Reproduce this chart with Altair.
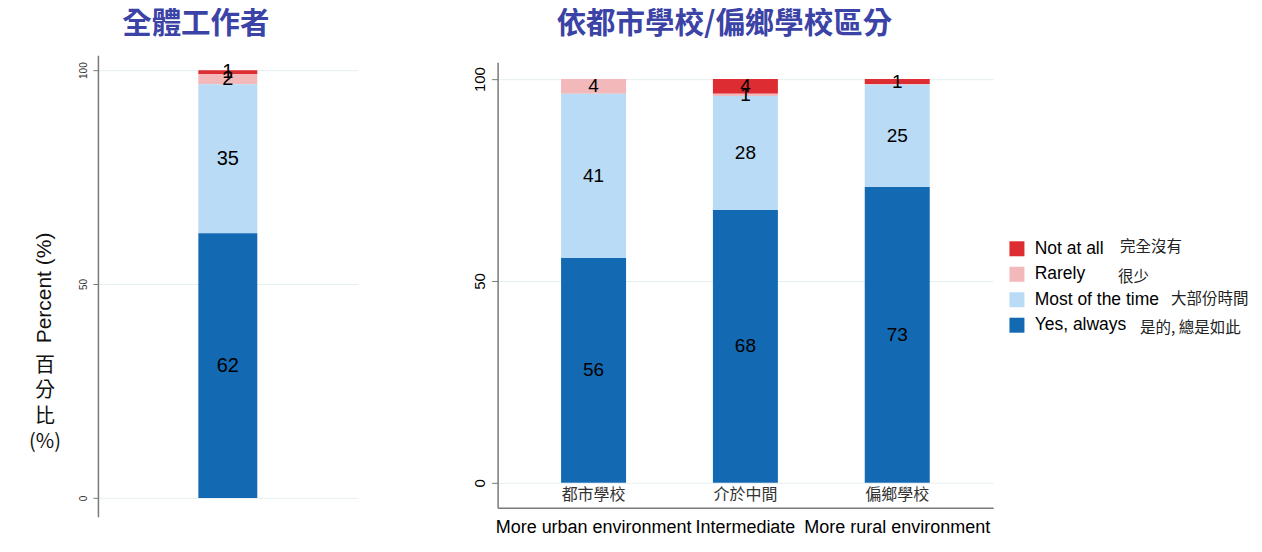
import altair as alt
import pandas as pd

# ---------------- data ----------------
responses = ["Not at all", "Rarely", "Most of the time", "Yes, always"]
responses_zh = ["完全沒有", "很少", "大部份時間", "是的, 總是如此"]
stack_rank = [3, 2, 1, 0]          # 0 = bottom of the stack
colors = ["#dd2d32", "#f2b8ba", "#b9dbf6", "#1469b3"]

overall_cat = ["全體"]
overall_values = [0.9, 2.4, 34.8, 61.9]

school_en = ["More urban environment", "Intermediate", "More rural environment"]
school_zh = ["都市學校", "介於中間", "偏鄉學校"]
urban_values = [0.0, 3.6, 40.7, 55.7]
intermediate_values = [3.6, 0.6, 28.2, 67.6]
rural_values = [1.2, 0.2, 25.3, 73.3]

left_title = "全體工作者"
right_title = "依都市學校/偏鄉學校區分"
y_title_en = "Percent (%)"
y_title_zh = "百\n分\n比\n(%)"
y_ticks = [0, 50, 100]

# ---------------- tables ----------------
rows_left = [
    {"cat": overall_cat[0], "resp": r, "k": k, "v": v}
    for r, k, v in zip(responses, stack_rank, overall_values)
]
df_left = pd.DataFrame(rows_left)

rows_right = []
for cat, zh, vals in zip(school_en, school_zh,
                         [urban_values, intermediate_values, rural_values]):
    for r, k, v in zip(responses, stack_rank, vals):
        rows_right.append({"cat": cat, "zh": zh, "resp": r, "k": k, "v": v})
df_right = pd.DataFrame(rows_right)
df_zh = pd.DataFrame({"cat": school_en, "zh": school_zh})

FONT = "Liberation Sans"
CJK = "Noto Sans CJK TC"
color_scale = alt.Scale(domain=responses, range=colors)
GRID = "#e6eff1"
DOMAIN = "#7a7a7a"
TITLE_COLOR = "#3b43a6"

# ---------------- left panel ----------------
yl_scale = alt.Scale(domain=[-4.4, 103.5], nice=False, zero=False)
left_base = alt.Chart(df_left)
left_bars = left_base.mark_bar(size=59).encode(
    x=alt.X("cat:N", axis=None),
    y=alt.Y("v:Q", stack="zero", scale=yl_scale,
            axis=alt.Axis(values=y_ticks, title=None, labelAngle=270,
                          labelFontSize=10, labelFont=FONT, labelColor="#333",
                          tickSize=5, tickColor=DOMAIN, domainColor=DOMAIN,
                          domainWidth=1.5, gridColor=GRID, grid=True,
                          labelPadding=4)),
    color=alt.Color("resp:N", scale=color_scale, legend=None),
    order=alt.Order("k:Q"),
)
left_labels = left_base.transform_stack(
    stack="v", groupby=["cat"], as_=["y0", "y1"],
    sort=[alt.SortField("k", order="ascending")],
).transform_calculate(
    mid="(datum.y0 + datum.y1) / 2"
).transform_filter("datum.v >= 0.5").mark_text(
    font=FONT, fontSize=20, color="black"
).encode(
    x=alt.X("cat:N", axis=None),
    y=alt.Y("mid:Q", scale=yl_scale),
    text=alt.Text("v:Q", format=".0f"),
)
ytitle_en = alt.Chart(pd.DataFrame({"t": [y_title_en]})).mark_text(
    font=FONT, fontSize=21, angle=270, color="#111"
).encode(x=alt.value(-53), y=alt.value(233), text="t:N")
ytitle_zh = alt.Chart(pd.DataFrame({"t": [y_title_zh]})).mark_text(
    font=CJK, fontSize=20, lineBreak="\n", lineHeight=25.5, baseline="top",
    color="#111"
).encode(x=alt.value(-53), y=alt.value(301), text="t:N")

left = alt.layer(left_bars, left_labels, ytitle_en, ytitle_zh).properties(
    width=260, height=462,
    title=alt.TitleParams(left_title, font=CJK, fontSize=29.5, fontWeight="bold",
                          color=TITLE_COLOR, anchor="middle", frame="group",
                          dx=-32, offset=16),
)

# ---------------- right panel ----------------
R_H = 453
yr_scale = alt.Scale(domain=[-6.2, 104.2], nice=False, zero=False, range=[R_H, 7])
x_scale = alt.Scale(domain=school_en, paddingInner=0.572, paddingOuter=0.418)
right_base = alt.Chart(df_right)
right_bars = right_base.mark_bar().encode(
    x=alt.X("cat:N", scale=x_scale, sort=school_en,
            axis=alt.Axis(title=None, labelAngle=0, ticks=False,
                          labelFontSize=18, labelFont=FONT, labelColor="black",
                          labelPadding=11, labelLimit=0, labelOverlap=False,
                          domainColor=DOMAIN, domainWidth=1.5, grid=False)),
    y=alt.Y("v:Q", stack="zero", scale=yr_scale,
            axis=alt.Axis(values=y_ticks, title=None, labelAngle=270,
                          labelFontSize=15, labelFont=FONT, labelColor="black",
                          tickSize=6, tickColor=DOMAIN, domainColor=DOMAIN,
                          domainWidth=1.5, gridColor=GRID, grid=True,
                          labelPadding=4)),
    color=alt.Color("resp:N", scale=color_scale,
                    legend=alt.Legend(title=None, orient="none", legendX=511,
                                      legendY=185, symbolType="square",
                                      symbolSize=225, symbolStrokeWidth=0,
                                      labelFont=FONT, labelFontSize=17.5,
                                      labelColor="black", labelOffset=9,
                                      rowPadding=6.5, padding=0)),
    order=alt.Order("k:Q"),
)
right_labels = right_base.transform_stack(
    stack="v", groupby=["cat"], as_=["y0", "y1"],
    sort=[alt.SortField("k", order="ascending")],
).transform_calculate(
    mid="(datum.y0 + datum.y1) / 2"
).transform_filter("datum.v >= 0.5").mark_text(
    font=FONT, fontSize=19, color="black"
).encode(
    x=alt.X("cat:N", scale=x_scale, sort=school_en),
    y=alt.Y("mid:Q", scale=yr_scale),
    text=alt.Text("v:Q", format=".0f"),
)
zh_labels = alt.Chart(df_zh).mark_text(
    font=CJK, fontSize=16, color="#333"
).encode(
    x=alt.X("cat:N", scale=x_scale, sort=school_en),
    y=alt.datum(-3),
    text="zh:N",
)

# Chinese annotations beside the legend entries (layout offsets)
zh_legend_x = [623, 621, 674, 643]
zh_legend_y = [192, 222, 244, 273]
zh_legend_layers = [
    alt.Chart(pd.DataFrame({"t": [t]})).mark_text(
        font=CJK, fontSize=15.5, color="#222", align="left"
    ).encode(x=alt.value(px), y=alt.value(py), text="t:N")
    for t, px, py in zip(responses_zh, zh_legend_x, zh_legend_y)
]

right = alt.layer(right_bars, right_labels, zh_labels, *zh_legend_layers).properties(
    width=496, height=R_H,
    title=alt.TitleParams(right_title, font=CJK, fontSize=29.5, fontWeight="bold",
                          color=TITLE_COLOR, anchor="middle", frame="group",
                          dx=-21, offset=16),
)

chart = alt.hconcat(left, right, spacing=115).resolve_scale(
    color="independent", y="independent", x="independent"
).properties(
    padding={"left": 21, "top": 0, "right": 5, "bottom": 5}
).configure_view(strokeWidth=0)

chart.save("out.html", embed_options={"renderer": "svg", "actions": False})
